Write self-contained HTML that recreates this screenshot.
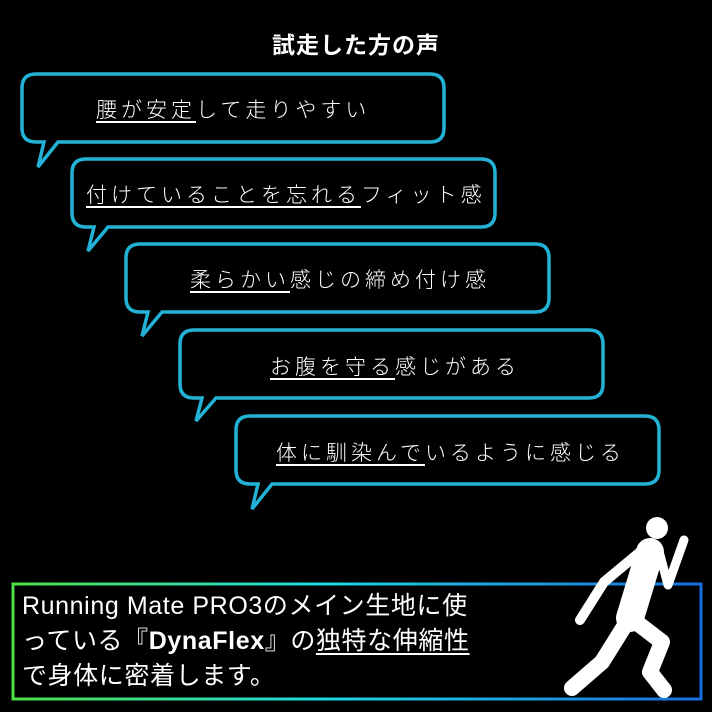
<!DOCTYPE html>
<html><head><meta charset="utf-8"><style>
html,body{margin:0;padding:0;background:#000;}
body{width:712px;height:712px;overflow:hidden;position:relative;font-family:"Liberation Sans","Noto Sans CJK JP",sans-serif;color:#fff;}
.t{position:absolute;white-space:nowrap;font-size:21px;letter-spacing:4px;font-weight:300;}
u{text-decoration-thickness:2px;text-underline-offset:4px;}
.b{position:absolute;left:22px;font-size:25px;line-height:35px;letter-spacing:0.6px;}
</style></head><body>
<svg width="712" height="712" style="position:absolute;left:0;top:0">
<defs><linearGradient id="g" x1="0" x2="1" y1="0" y2="0"><stop offset="0" stop-color="#4ee04a"/><stop offset="0.45" stop-color="#1fd8e0"/><stop offset="1" stop-color="#1a6de0"/></linearGradient></defs>
<g fill="none" stroke="#22b2d6" stroke-width="3.5" stroke-linejoin="miter">
<path d="M36,74 H430 Q444,74 444,88 V128 Q444,142 430,142 H58 L38,167 L44,142 H36 Q22,142 22,128 V88 Q22,74 36,74 Z"/>
<path d="M86,159 H481 Q495,159 495,173 V213 Q495,227 481,227 H108 L88,251 L94,227 H86 Q72,227 72,213 V173 Q72,159 86,159 Z"/>
<path d="M140,244 H535 Q549,244 549,258 V298 Q549,312 535,312 H162 L142,336 L148,312 H140 Q126,312 126,298 V258 Q126,244 140,244 Z"/>
<path d="M194,330 H589 Q603,330 603,344 V384 Q603,398 589,398 H216 L196,421 L202,398 H194 Q180,398 180,384 V344 Q180,330 194,330 Z"/>
<path d="M250,416 H645 Q659,416 659,430 V470 Q659,484 645,484 H272 L252,509 L258,484 H250 Q236,484 236,470 V430 Q236,416 250,416 Z"/>
</g>
<rect x="13" y="584" width="688" height="115" fill="none" stroke="url(#g)" stroke-width="3"/>
<g stroke="#fff" fill="none" stroke-linecap="round" stroke-linejoin="round">
<circle cx="657" cy="528" r="11" fill="#fff" stroke="none"/>
<path d="M650,552 L630,618" stroke-width="28"/>
<path d="M640,552 L604,582 L580,620" stroke-width="10"/>
<path d="M660,555 L668,585 L684,540" stroke-width="9"/>
<path d="M627,622 L602,662 L572,688" stroke-width="16"/>
<path d="M636,622 L662,642 L650,672 L664,690" stroke-width="16"/>
</g>
</svg>
<div style="position:absolute;left:0;width:712px;top:26px;text-align:center;font-size:23px;font-weight:bold;letter-spacing:1px">試走した方の声</div>
<div class="t" style="left:96px;top:94px"><u>腰が安定</u>して走りやすい</div>
<div class="t" style="left:86px;top:179px"><u>付けていることを忘れる</u>フィット感</div>
<div class="t" style="left:190px;top:264px"><u>柔らかい</u>感じの締め付け感</div>
<div class="t" style="left:270px;top:351px"><u>お腹を守る</u>感じがある</div>
<div class="t" style="left:276px;top:437px"><u>体に馴染んで</u>いるように感じる</div>
<div class="b" style="top:589px">Running Mate PRO3のメイン生地に使<br>っている『<b>DynaFlex</b>』の<u>独特な伸縮性</u><br>で身体に密着します。</div>
</body></html>
